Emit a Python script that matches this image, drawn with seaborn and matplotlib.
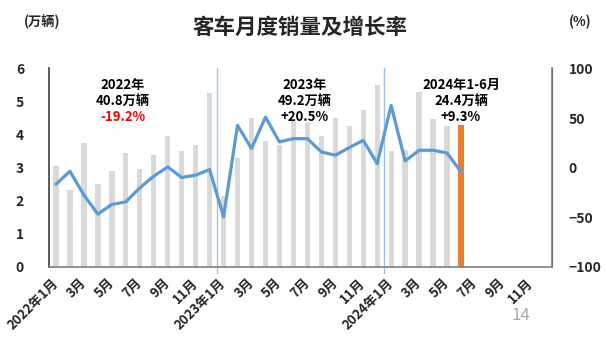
import numpy as np
import pandas as pd
import matplotlib
matplotlib.use("Agg")
import matplotlib.pyplot as plt
import seaborn as sns

# ---- data ----
months_idx = list(range(30))  # 2022-01 .. 2024-06
sales = [3.04, 2.33, 3.74, 2.50, 2.89, 3.44, 2.97, 3.39, 3.97, 3.50, 3.70, 5.27,
         2.15, 3.29, 4.50, 3.82, 3.68, 4.47, 4.35, 3.95, 4.50, 4.25, 4.73, 5.51,
         3.50, 3.55, 5.30, 4.46, 4.25, 4.29]
growth = [-16.6, -3.5, -27.6, -46.7, -37.0, -34.4, -20.3, -8.5, 0.8, -9.8, -7.5, -1.8,
          -49.4, 42.7, 19.3, 51.0, 26.0, 29.3, 29.3, 15.9, 12.6, 20.3, 27.6, 4.2,
          62.8, 6.8, 17.6, 17.6, 14.9, -4.2]
highlight = ["n"] * 29 + ["y"]
tick_pos = list(range(0, 36, 2))
tick_labels = ["2022年1月", "3月", "5月", "7月", "9月", "11月",
               "2023年1月", "3月", "5月", "7月", "9月", "11月",
               "2024年1月", "3月", "5月", "7月", "9月", "11月"]
year_lines = [11.5, 23.5]
ann_x = [4.8, 17.8, 29.0]
ann_l1 = ["2022年", "2023年", "2024年1-6月"]
ann_l2 = ["40.8万辆", "49.2万辆", "24.4万辆"]
ann_l3 = ["-19.2%", "+20.5%", "+9.3%"]
ann_c3 = ["#ff0000", "#000000", "#000000"]

df = pd.DataFrame({"idx": months_idx, "sales": sales, "growth": growth, "hl": highlight})

sns.set_style("white")
plt.rcParams["font.family"] = ["Noto Sans CJK SC", "DejaVu Sans"]

fig = plt.figure(figsize=(6.05, 3.39), dpi=100)
ax = fig.add_axes([0.081, 0.2124, 0.831, 0.5856])

sns.barplot(data=df, x="idx", y="sales", hue="hl", native_scale=True,
            palette={"n": "#d9d9d9", "y": "#ed7d31"}, width=0.38,
            legend=False, ax=ax, saturation=1, linewidth=0)
ax.set_xlim(-0.5, 35.5)
ax.set_ylim(0, 6)
ax.set_yticks(range(0, 7))
ax.set_xlabel("")
ax.set_ylabel("")
ax.set_xticks(tick_pos)
ax.set_xticklabels(tick_labels, rotation=45, ha="right", va="center",
                   rotation_mode="anchor", fontsize=9.5, fontweight="bold")
ax.tick_params(axis="x", length=0, pad=10)
ax.tick_params(axis="y", length=0, pad=18, labelsize=10)
for t in ax.get_yticklabels():
    t.set_fontweight("bold")

ax2 = ax.twinx()
sns.lineplot(data=df, x="idx", y="growth", color="#5b9bd5", linewidth=2.3, ax=ax2)
ax2.set_ylim(-100, 100)
ax2.set_yticks([-100, -50, 0, 50, 100])
ax2.set_ylabel("")
ax2.set_xlabel("")
ax2.tick_params(axis="y", length=0, pad=12, labelsize=10)
for t in ax2.get_yticklabels():
    t.set_fontweight("bold")
ax2.set_xlim(-0.5, 35.5)

for a in (ax, ax2):
    a.spines["top"].set_visible(False)
    a.grid(False)
ax.spines["left"].set_color("#404040")
ax.spines["bottom"].set_color("#7f7f7f")
ax2.spines["right"].set_color("#7f7f7f")
ax2.spines["left"].set_visible(False)
ax2.spines["bottom"].set_visible(False)
for s in ("left", "bottom"):
    ax.spines[s].set_linewidth(1.2)
ax2.spines["right"].set_linewidth(1.2)

for xl in year_lines:
    ax.axvline(xl, ymin=-0.03, ymax=1.0, color="#9dc3e6", linewidth=1.0, clip_on=False)

for x, l1, l2, l3, c3 in zip(ann_x, ann_l1, ann_l2, ann_l3, ann_c3):
    ax.text(x, 5.5, l1, ha="center", va="center", fontsize=9.5, fontweight="bold", color="black")
    ax.text(x, 5.02, l2, ha="center", va="center", fontsize=9.5, fontweight="bold", color="black")
    ax.text(x, 4.54, l3, ha="center", va="center", fontsize=9.5, fontweight="bold", color=c3)

fig.text(300 / 605, 1 - 27 / 339, "客车月度销量及增长率", ha="center", va="center",
         fontsize=15.5, fontweight="bold")
fig.text(42 / 605, 1 - 22 / 339, "(万辆)", ha="center", va="center", fontsize=9.5, fontweight="bold")
fig.text(580 / 605, 1 - 22 / 339, "(%)", ha="center", va="center", fontsize=9.5, fontweight="bold")
fig.text(521 / 605, 1 - 316 / 339, "14", ha="center", va="center", fontsize=12, color="#a6a6a6")

fig.savefig("out.png", dpi=100)
